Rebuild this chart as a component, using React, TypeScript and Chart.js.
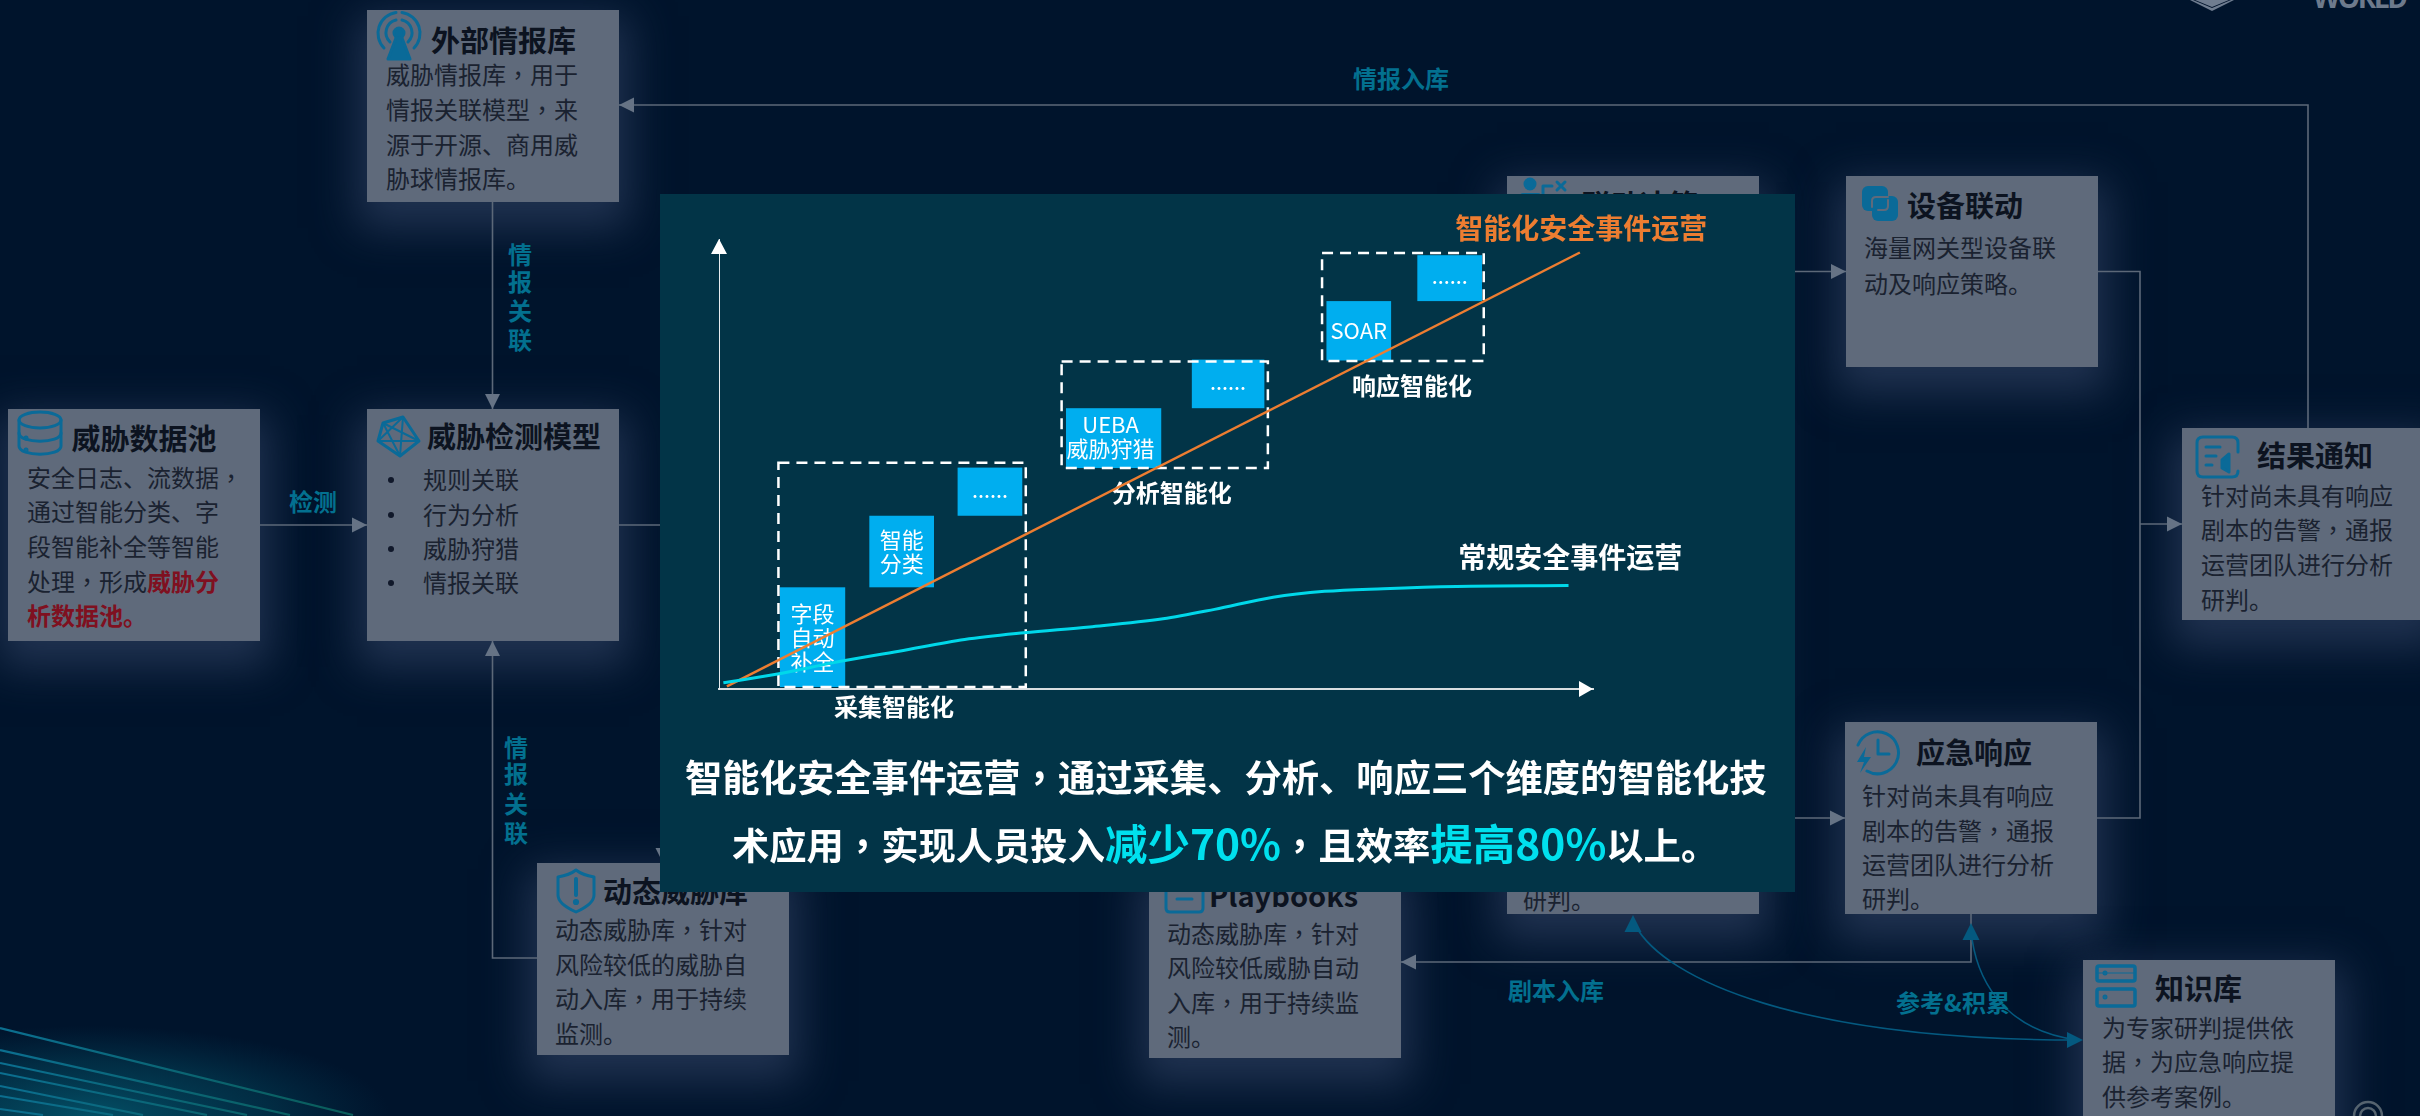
import React, { useEffect, useRef } from "react";
import { Chart, registerables } from "chart.js";

Chart.register(...registerables);

const FONT = '"Noto Sans CJK SC", "Noto Sans", sans-serif';
const FONT_CENTERED_COMMA = '"Noto Sans CJK TC", "Noto Sans", sans-serif';

// Maturity curves on a 0-100 / 0-100 effort-versus-capability plane
const intelligentX = [0.9, 98.5];
const intelligentY = [0.6, 97];
const regularX = [0.5, 7.2, 13.0, 20.6, 28.1, 34.9, 42.4, 50.8, 56.7, 63.4, 69.3, 76.0, 84.4, 97.2];
const regularY = [1.4, 3.5, 5.8, 8.4, 11.0, 12.5, 13.8, 15.6, 17.7, 20.4, 21.7, 22.3, 22.8, 23.0];

const intelligentName = "智能化安全事件运营";
const regularName = "常规安全事件运营";

// Capability blocks: [xFrom, xTo, yFrom, yTo, lines of text]
const capabilityBlocks: [number, number, number, number, string[]][] = [
  [6.97, 14.44, 0.44, 22.6, ["字段", "自动", "补全"]],
  [17.2, 24.6, 22.6, 38.5, ["智能", "分类"]],
  [27.3, 34.7, 38.5, 49.2, ["……"]],
  [39.7, 50.6, 49.1, 62.4, ["UEBA", "威胁狩猎"]],
  [54.1, 62.4, 62.4, 73.2, ["……"]],
  [69.5, 76.9, 73.0, 86.2, ["SOAR"]],
  [79.9, 87.3, 86.2, 96.4, ["……"]],
];

// Stage frames: [xFrom, xTo, yFrom, yTo, stage name]
const stageFrames: [number, number, number, number, string][] = [
  [6.8, 35.1, 0.44, 50.3, "采集智能化"],
  [39.2, 62.8, 49.1, 72.8, "分析智能化"],
  [69.0, 87.5, 72.9, 96.9, "响应智能化"],
];

const statementTop = "智能化安全事件运营，通过采集、分析、响应三个维度的智能化技";

type Seg = { t: string; red?: boolean };
type Card = {
  x: number; y: number; w: number; h: number;
  title: string; tx: number; ty: number;
  bx: number; by: number[]; lines: (string | Seg[])[]; bullets?: boolean;
};

const cards: Card[] = [
  { x: 367, y: 10, w: 252, h: 192, title: "外部情报库", tx: 431, ty: 40, bx: 386, by: [75, 110, 145, 179],
    lines: ["威胁情报库，用于", "情报关联模型，来", "源于开源、商用威", "胁球情报库。"] },
  { x: 8, y: 409, w: 252, h: 232, title: "威胁数据池", tx: 71.5, ty: 438, bx: 27, by: [478, 512, 547, 582, 616],
    lines: ["安全日志、流数据，", "通过智能分类、字", "段智能补全等智能",
      [{ t: "处理，形成" }, { t: "威胁分", red: true }], [{ t: "析数据池。", red: true }]] },
  { x: 367, y: 409, w: 252, h: 232, title: "威胁检测模型", tx: 427, ty: 436, bx: 423, by: [480, 515, 549, 583],
    lines: ["规则关联", "行为分析", "威胁狩猎", "情报关联"], bullets: true },
  { x: 537, y: 863, w: 252, h: 192, title: "动态威胁库", tx: 603, ty: 891, bx: 555, by: [930, 965, 999, 1034],
    lines: ["动态威胁库，针对", "风险较低的威胁自", "动入库，用于持续", "监测。"] },
  { x: 1149, y: 866, w: 252, h: 192, title: "Playbooks", tx: 1209, ty: 895, bx: 1167, by: [934, 968, 1003, 1037],
    lines: ["动态威胁库，针对", "风险较低威胁自动", "入库，用于持续监", "测。"] },
  { x: 1507, y: 176, w: 252, h: 738, title: "联动决策", tx: 1582, ty: 204, bx: 1523, by: [900],
    lines: ["研判。"] },
  { x: 1846, y: 176, w: 252, h: 191, title: "设备联动", tx: 1907, ty: 205, bx: 1864, by: [248, 284],
    lines: ["海量网关型设备联", "动及响应策略。"] },
  { x: 2182, y: 428, w: 252, h: 192, title: "结果通知", tx: 2257, ty: 455, bx: 2201, by: [496, 530, 565, 600],
    lines: ["针对尚未具有响应", "剧本的告警，通报", "运营团队进行分析", "研判。"] },
  { x: 1845, y: 722, w: 252, h: 192, title: "应急响应", tx: 1916, ty: 752, bx: 1862, by: [796, 831, 865, 899],
    lines: ["针对尚未具有响应", "剧本的告警，通报", "运营团队进行分析", "研判。"] },
  { x: 2083, y: 960, w: 252, h: 190, title: "知识库", tx: 2155, ty: 988, bx: 2102, by: [1028, 1062, 1097],
    lines: ["为专家研判提供依", "据，为应急响应提", "供参考案例。"] },
];

// Teal captions along the connectors: [text, centre x, centre y]
const captions: [string, number, number][] = [
  ["情报入库", 1401, 79], ["检测", 313, 502], ["剧本入库", 1556, 991], ["参考&积累", 1953, 1003],
  ["情", 520, 255], ["报", 520, 282], ["关", 520, 311], ["联", 520, 340],
  ["情", 516, 748], ["报", 516, 774], ["关", 516, 804], ["联", 516, 833],
];

const PANEL = { x: 660, y: 194, w: 1135, h: 698 };
const PLOT = { left: 719, right: 1593, top: 239, bottom: 689 };
const TEXT_LIFT = 1.5;

// Full-width commas sit in the middle of their cell in this layout
const withCommas = (s: string) =>
  s.split(/(，)/).map((part, i) =>
    part === "，" ? <span key={i} style={{ fontFamily: FONT_CENTERED_COMMA }}>，</span> : part);

const TextAt = ({ x, y, size, weight, color, children, center }: any) => (
  <div style={{
    position: "absolute", left: x, top: y - TEXT_LIFT, whiteSpace: "nowrap", fontSize: size, fontWeight: weight,
    color, lineHeight: 1, transform: center ? "translate(-50%,-50%)" : "translateY(-50%)", fontFamily: FONT,
  }}>{children}</div>
);

const Tri = ({ x, y, dir, size = 15, fill = "#667385" }: any) => {
  const s = size, h = size / 2;
  const pts: Record<string, number[][]> = {
    r: [[x, y], [x - s, y - h], [x - s, y + h]],
    l: [[x, y], [x + s, y - h], [x + s, y + h]],
    u: [[x, y], [x - h, y + s], [x + h, y + s]],
    d: [[x, y], [x - h, y - s], [x + h, y - s]],
  };
  return <polygon points={pts[dir].map((p) => p.join(",")).join(" ")} fill={fill} />;
};

const Connectors = () => (
  <svg width={2420} height={1116} style={{ position: "absolute", left: 0, top: 0 }}>
    <defs>
      <linearGradient id="streak" gradientUnits="userSpaceOnUse" x1="0" y1="0" x2="360" y2="0">
        <stop offset="0" stopColor="#0b6f90" />
        <stop offset="1" stopColor="#0a5c58" />
      </linearGradient>
      <radialGradient id="haze" gradientUnits="userSpaceOnUse" cx="90" cy="1120" r="300" gradientTransform="translate(0 780) scale(1 0.3)">
        <stop offset="0" stopColor="#045a70" stopOpacity="0.85" />
        <stop offset="0.6" stopColor="#044a60" stopOpacity="0.45" />
        <stop offset="1" stopColor="#04405a" stopOpacity="0" />
      </radialGradient>
    </defs>
    <rect x={0} y={980} width={460} height={136} fill="url(#haze)" />
    <g stroke="url(#streak)" strokeWidth="2.2" fill="none">
      <path d="M0 1028 L353 1115" /><path d="M0 1050 L290 1115" /><path d="M0 1063 L247 1115" />
      <path d="M0 1073 L207 1115" /><path d="M0 1086 L143 1115" /><path d="M0 1096 L113 1115" />
      <path d="M0 1109 L43 1115" />
    </g>
    <g stroke="#5c6878" strokeWidth="1.6" fill="none">
      <path d="M2308 428 V105 H619" />
      <path d="M492.5 202 V409" />
      <path d="M260 525 H367" />
      <path d="M619 525 H660" />
      <path d="M537 958 H492.5 V641" />
      <path d="M1795 271.5 H1846" />
      <path d="M2098 271.5 H2140 V818 H2097" />
      <path d="M2140 524 H2182" />
      <path d="M1795 818 H1845" />
      <path d="M1971 914 V962 H1401" />
    </g>
    <Tri x={619} y={105} dir="l" />
    <Tri x={492.5} y={409} dir="d" />
    <Tri x={367} y={525} dir="r" />
    <Tri x={492.5} y={641} dir="u" />
    <Tri x={663} y={863} dir="d" />
    <Tri x={1846} y={271.5} dir="r" />
    <Tri x={2182} y={524} dir="r" />
    <Tri x={1845} y={818} dir="r" />
    <Tri x={1401} y={962} dir="l" />
    <g stroke="#04597f" strokeWidth="1.6" fill="none">
      <path d="M1635 925 C1665 980 1800 1040 2078 1040" />
      <path d="M1971 930 C1975 975 2000 1030 2078 1040" />
    </g>
    <Tri x={1633} y={915} dir="u" size={17} fill="#04597f" />
    <Tri x={1971} y={923} dir="u" size={17} fill="#04597f" />
    <Tri x={2083} y={1040} dir="r" size={16} fill="#04597f" />
    {/* brand mark running off the slide edges */}
    <polygon points="2195,0 2229,0 2212,7" fill="#6f7d90" />
    <polygon points="2190,0 2193,0 2212,8 2231,0 2234,0 2212,11" fill="#6f7d90" />
    <text x={2313} y={8} fontSize={28} fontFamily="Open Sans" fontWeight={700} fill="#6d7a8c" textLength={95}>WORLD</text>
    <g stroke="#55636f" strokeWidth="2.5" fill="none">
      <path d="M2354 1116 A14 14 0 0 1 2382 1116" />
      <path d="M2360 1116 A8 8 0 0 1 2376 1116" />
    </g>
  </svg>
);

const Icons = () => (
  <svg width={2420} height={1116} style={{ position: "absolute", left: 0, top: 0 }}>
    <g stroke="#0a6a98" strokeWidth="3" fill="none" strokeLinecap="round" strokeLinejoin="round">
      {/* tower */}
      <circle cx={399} cy={33} r={5} fill="#0a6a98" />
      <path d="M390 42 A13 13 0 0 1 396 20" /><path d="M408 42 A13 13 0 0 0 402 20" />
      <path d="M384 48 A21 21 0 0 1 396 12.5" /><path d="M414 48 A21 21 0 0 0 402 12.5" />
      <polygon points="396,38 402,38 410,59 388,59" fill="#0a6a98" />
      {/* database */}
      <ellipse cx={40} cy={420} rx={21} ry={8} />
      <path d="M19 420 V446 C19 457 61 457 61 446 V420" />
      <path d="M19 433 C19 444 61 444 61 433" />
      <circle cx={26} cy={438} r={1} /><circle cx={26} cy={450} r={1} />
      {/* model graph */}
      <path d="M383 423 L403 417 L419 441 L400 456 L378 441 Z" />
      <path d="M383 423 L400 456 M403 417 L400 456 M383 423 L419 441 M403 417 L378 441 M378 441 L419 441" strokeWidth="2" />
      {/* shield */}
      <path d="M576 870 C581 874 588 876 594 877 V895 C594 903 585 908 576 912 C567 908 558 903 558 895 V877 C564 876 571 874 576 870 Z" />
      <path d="M576 879 V895" strokeWidth="4" /><circle cx={576} cy={902} r={1.6} />
      {/* linked squares */}
      <rect x={1862} y={186} width={26} height={25} rx={6} fill="#0a6a98" stroke="none" />
      <rect x={1872} y={196} width={26} height={25} rx={6} fill="#0a6a98" stroke="none" />
      <path d="M1872 207 V201 Q1872 197 1876 197 H1888" stroke="#5f6a7b" strokeWidth="2" />
      <path d="M1888 200 V206 Q1888 210 1884 210 H1878" stroke="#5f6a7b" strokeWidth="2" />
      {/* notice sheet */}
      <path d="M2232 437 H2203 Q2197 437 2197 443 V471 Q2197 477 2203 477 H2232 Q2238 477 2238 471 M2238 452 V443 Q2238 437 2232 437" />
      <path d="M2206 447 H2220 M2206 456 H2216 M2206 465 H2212" />
      <polygon points="2222,460 2229,454 2229,472 2222,468" fill="#0a6a98" />
      {/* clock with bolt */}
      <path d="M1867 771 A21 21 0 1 0 1858 745" />
      <path d="M1878 740 V754 H1889" />
      <polygon points="1866,747 1857,762 1864,762 1860,773 1871,757 1864,757" fill="#0a6a98" stroke="none" />
      {/* server */}
      <rect x={2097} y={966} width={38} height={15} rx={2} strokeWidth="3.5" />
      <rect x={2097} y={989} width={38} height={17} rx={2} strokeWidth="3.5" />
      <path d="M2097 973 H2135" strokeWidth="1" /><circle cx={2105} cy={973} r={1} /><circle cx={2105} cy={997} r={1} />
      {/* playbook */}
      <path d="M1166 880 V908 Q1166 912 1170 912 H1199 Q1203 912 1203 908 V880" />
      <path d="M1177 899 H1192" />
      {/* person and decision mark */}
      <circle cx={1530} cy={184} r={5} fill="#0a6a98" />
      <path d="M1523 196 H1538" strokeWidth="6" />
      <path d="M1543 197 V186 H1552" />
      <path d="M1557 182 L1565 190 M1565 182 L1557 190" />
    </g>
  </svg>
);

const CardGlow = ({ c }: { c: Card }) => (
  <div style={{
    position: "absolute", left: c.x, top: c.y, width: c.w, height: c.h, background: "#5f6a7b",
    boxShadow: "0 16px 40px 10px rgba(52,70,104,0.62)",
  }} />
);

const CardText = ({ c }: { c: Card }) => (
  <>
    <TextAt x={c.tx} y={c.ty} size={29} weight={700} color="#0c1320">{c.title}</TextAt>
    {c.lines.map((line, i) => (
      <React.Fragment key={i}>
        {c.bullets && <div style={{ position: "absolute", left: 388, top: c.by[i] - 3, width: 6, height: 6, borderRadius: 3, background: "#10182a" }} />}
        <TextAt x={c.bx} y={c.by[i]} size={24} weight={400} color="#1a2230">
          {typeof line === "string" ? withCommas(line) : line.map((s, k) => (
            <span key={k} style={s.red ? { color: "#7f1020", fontWeight: 700 } : undefined}>{withCommas(s.t)}</span>
          ))}
        </TextAt>
      </React.Fragment>
    ))}
  </>
);

// Draws the capability blocks, stage frames, axis arrows and curve names on the plot scales
const overlayPlugin = {
  id: "overlay",
  beforeDatasetsDraw(chart: any) {
    const { ctx, scales: { x, y } } = chart;
    ctx.save();
    ctx.textAlign = "center";
    ctx.textBaseline = "middle";
    capabilityBlocks.forEach(([x0, x1, y0, y1, text]) => {
      const l = x.getPixelForValue(x0), r = x.getPixelForValue(x1);
      const t = y.getPixelForValue(y1), b = y.getPixelForValue(y0);
      ctx.fillStyle = "#00aeef";
      ctx.fillRect(l, t, r - l, b - t);
      ctx.fillStyle = "#ffffff";
      const dots = text[0] === "……";
      ctx.font = `${dots ? 700 : 400} ${dots ? 18 : 22}px ${FONT}`;
      const step = 24;
      const shiftX = text[0] === "UEBA" ? -3 : 0;
      const shiftY = dots ? 4 : text[0] === "UEBA" ? -1.5 : 0;
      const cx = (l + r) / 2 + shiftX, cy = (t + b) / 2 + shiftY;
      text.forEach((line, i) => {
        ctx.fillText(line, cx, cy + (i - (text.length - 1) / 2) * step);
      });
    });
    ctx.strokeStyle = "#ffffff";
    ctx.lineWidth = 2.5;
    ctx.setLineDash([11, 7]);
    stageFrames.forEach(([x0, x1, y0, y1, name], i) => {
      const l = x.getPixelForValue(x0), r = x.getPixelForValue(x1);
      const t = y.getPixelForValue(y1), b = y.getPixelForValue(y0);
      ctx.strokeRect(l, t, r - l, b - t);
      ctx.fillStyle = "#ffffff";
      ctx.font = `700 24px ${FONT}`;
      const nudgeX = [-8, 7, 9][i];
      const nudgeY = [20, 25, 25][i];
      ctx.fillText(name, (l + r) / 2 + nudgeX, b + nudgeY);
    });
    ctx.restore();
  },
  afterDatasetsDraw(chart: any) {
    const { ctx, chartArea: a, scales: { x, y } } = chart;
    ctx.save();
    ctx.fillStyle = "#ffffff";
    ctx.beginPath();
    ctx.moveTo(a.right, a.bottom);
    ctx.lineTo(a.right - 14, a.bottom - 8);
    ctx.lineTo(a.right - 14, a.bottom + 8);
    ctx.fill();
    ctx.beginPath();
    ctx.moveTo(a.left, a.top);
    ctx.lineTo(a.left - 8, a.top + 15);
    ctx.lineTo(a.left + 8, a.top + 15);
    ctx.fill();
    ctx.textAlign = "center";
    ctx.textBaseline = "middle";
    ctx.font = `700 28px ${FONT}`;
    ctx.fillStyle = "#ed7d31";
    ctx.fillText(intelligentName, x.getPixelForValue(98.65), y.getPixelForValue(102.3));
    ctx.fillStyle = "#ffffff";
    ctx.fillText(regularName, x.getPixelForValue(97.4), y.getPixelForValue(29.2));
    ctx.restore();
  },
};

export default function App() {
  const canvasRef = useRef<HTMLCanvasElement | null>(null);

  useEffect(() => {
    const chart = new Chart(canvasRef.current as HTMLCanvasElement, {
      type: "line",
      data: {
        datasets: [
          {
            label: regularName,
            data: regularX.map((x, i) => ({ x, y: regularY[i] })),
            borderColor: "#00d8ea",
            borderWidth: 3,
            pointRadius: 0,
            cubicInterpolationMode: "monotone",
          },
          {
            label: intelligentName,
            data: intelligentX.map((x, i) => ({ x, y: intelligentY[i] })),
            borderColor: "#ed7d31",
            borderWidth: 2.5,
            pointRadius: 0,
          },
        ],
      },
      options: {
        animation: false,
        responsive: false,
        layout: {
          padding: {
            left: PLOT.left - PANEL.x,
            right: PANEL.x + PANEL.w - PLOT.right,
            top: PLOT.top - PANEL.y,
            bottom: PANEL.y + PANEL.h - PLOT.bottom,
          },
        },
        plugins: { legend: { display: false }, tooltip: { enabled: false } },
        scales: {
          x: {
            type: "linear", min: 0, max: 100,
            grid: { display: false, drawTicks: false },
            ticks: { display: false },
            border: { color: "#d8dde0", width: 2 },
          },
          y: {
            type: "linear", min: 0, max: 100,
            grid: { display: false, drawTicks: false },
            ticks: { display: false },
            border: { color: "#e8ecef", width: 1 },
          },
        },
      },
      plugins: [overlayPlugin],
    } as any);
    return () => chart.destroy();
  }, []);

  return (
    <div style={{ position: "absolute", left: 0, top: 0, width: 2420, height: 1116, overflow: "hidden", background: "#00142c", fontFamily: FONT }}>
      <style>{"html,body{margin:0;padding:0;background:#00142c;overflow:hidden}"}</style>
      {cards.map((c, i) => <CardGlow key={i} c={c} />)}
      <Connectors />
      {cards.map((c, i) => (
        <div key={i} style={{ position: "absolute", left: c.x, top: c.y, width: c.w, height: c.h, background: "#5f6a7b" }} />
      ))}
      {cards.map((c, i) => <CardText key={i} c={c} />)}
      <Icons />
      {captions.map(([t, x, y], i) => (
        <TextAt key={i} center x={x} y={y} size={24} weight={700} color="#03708f">{t}</TextAt>
      ))}
      <div style={{ position: "absolute", left: PANEL.x, top: PANEL.y, width: PANEL.w, height: PANEL.h, background: "#023447" }}>
        <canvas ref={canvasRef} width={PANEL.w} height={PANEL.h} style={{ display: "block" }} />
      </div>
      <TextAt x={685} y={778} size={37.3} weight={700} color="#ffffff">{withCommas(statementTop)}</TextAt>
      <TextAt x={732} y={843} size={37.3} weight={700} color="#ffffff">
        术应用{withCommas("，")}实现人员投入<span style={{ color: "#00e0ee", fontSize: 42.5 }}>减少70%</span>{withCommas("，")}且效率<span style={{ color: "#00e0ee", fontSize: 42.5 }}>提高80%</span>以上。
      </TextAt>
    </div>
  );
}
